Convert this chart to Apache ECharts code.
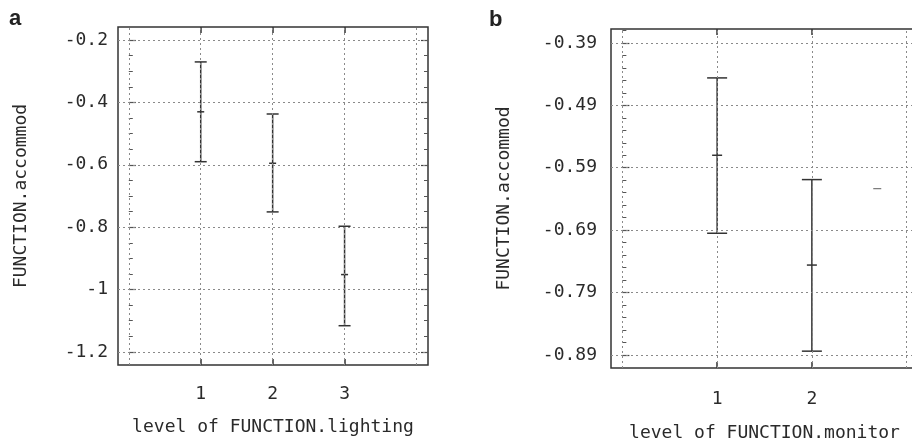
<!DOCTYPE html>
<html>
<head>
<meta charset="utf-8">
<script src="https://cdn.jsdelivr.net/npm/echarts@6/dist/echarts.min.js"></script>
<style>
html,body{margin:0;padding:0;background:#fff;}
#chart{width:912px;height:442px;}
</style>
</head>
<body>
<div id="chart"></div>
<script>
// ---- Panel a data ----
var catsA = [1, 2, 3];
var meanA = [-0.43, -0.595, -0.952];
var lowA  = [-0.59, -0.751, -1.116];
var highA = [-0.27, -0.437, -0.797];
var yTicksA = [-1.2, -1, -0.8, -0.6, -0.4, -0.2];
var yMinorA = [-1.2, -1.15, -1.1, -1.05, -1, -0.95, -0.9, -0.85, -0.8, -0.75, -0.7, -0.65, -0.6, -0.55, -0.5, -0.45, -0.4, -0.35, -0.3, -0.25, -0.2];
var xGridA = [0, 1, 2, 3, 4];
var xTicksA = [1, 2, 3];

// ---- Panel b data ----
var catsB = [1, 2];
var meanB = [-0.57, -0.746];
var lowB  = [-0.695, -0.884];
var highB = [-0.446, -0.609];
var yTicksB = [-0.89, -0.79, -0.69, -0.59, -0.49, -0.39];
var yMinorB = [-0.89, -0.87, -0.85, -0.83, -0.81, -0.79, -0.77, -0.75, -0.73, -0.71, -0.69, -0.67, -0.65, -0.63, -0.61, -0.59, -0.57, -0.55, -0.53, -0.51, -0.49, -0.47, -0.45, -0.43, -0.41, -0.39, -0.37];
var xGridB = [0, 1, 2, 3];
var xTicksB = [1, 2];
var strayB = [[2.69, -0.6235]];

var FONT = 'DejaVu Sans Mono';
var INK = '#2a2a2a';
var GRIDC = '#8a8a8a';

function barData(cats, low, high, mean) {
  return cats.map(function (c, i) { return [c, low[i], high[i], mean[i]]; });
}

function makeRender(capHalf, midHalf) {
  return function (params, api) {
    var x = api.value(0), lo = api.value(1), hi = api.value(2), m = api.value(3);
    var pHi = api.coord([x, hi]), pLo = api.coord([x, lo]), pM = api.coord([x, m]);
    var st = { stroke: '#333', lineWidth: 1.5 };
    return {
      type: 'group',
      children: [
        { type: 'line', shape: { x1: pHi[0], y1: pHi[1], x2: pLo[0], y2: pLo[1] }, style: st },
        { type: 'line', shape: { x1: pHi[0] - capHalf, y1: pHi[1], x2: pHi[0] + capHalf, y2: pHi[1] }, style: st },
        { type: 'line', shape: { x1: pLo[0] - capHalf, y1: pLo[1], x2: pLo[0] + capHalf, y2: pLo[1] }, style: st },
        { type: 'line', shape: { x1: pM[0] - midHalf, y1: pM[1], x2: pM[0] + midHalf, y2: pM[1] }, style: st }
      ]
    };
  };
}

function dashRender(params, api) {
  var p = api.coord([api.value(0), api.value(1)]);
  return { type: 'line', shape: { x1: p[0] - 4, y1: p[1], x2: p[0] + 4, y2: p[1] }, style: { stroke: '#777', lineWidth: 1.2 } };
}

function gridLines(xs, ys) {
  var d = [];
  xs.forEach(function (v) { d.push({ xAxis: v }); });
  ys.forEach(function (v) { d.push({ yAxis: v }); });
  return {
    silent: true, symbol: ['none', 'none'], label: { show: false },
    lineStyle: { type: [2, 3], color: GRIDC, width: 1 },
    emphasis: { disabled: true },
    data: d
  };
}

function yAxes(gi, min, max, ticks, minor, name, labMargin, nameGap) {
  var base = { type: 'value', gridIndex: gi, min: min, max: max, splitLine: { show: false }, axisLine: { show: false } };
  return [
    Object.assign({}, base, {
      position: 'left',
      axisTick: { show: true, inside: true, length: 7, customValues: ticks, lineStyle: { color: '#444', width: 1.2 } },
      axisLabel: { show: true, customValues: ticks, margin: labMargin, color: INK, fontFamily: FONT, fontSize: 18 },
      name: name, nameLocation: 'middle', nameGap: nameGap, nameMoveOverlap: false,
      nameTextStyle: { color: INK, fontFamily: FONT, fontSize: 18 }
    }),
    Object.assign({}, base, {
      position: 'left',
      axisTick: { show: true, inside: true, length: 4, customValues: minor, lineStyle: { color: '#555', width: 1 } },
      axisLabel: { show: false }
    }),
    Object.assign({}, base, {
      position: 'right',
      axisTick: { show: true, inside: true, length: 7, customValues: ticks, lineStyle: { color: '#444', width: 1.2 } },
      axisLabel: { show: false }
    }),
    Object.assign({}, base, {
      position: 'right',
      axisTick: { show: true, inside: true, length: 4, customValues: minor, lineStyle: { color: '#555', width: 1 } },
      axisLabel: { show: false }
    })
  ];
}

function xAxes(gi, min, max, ticks, name, labMargin, nameGap) {
  var base = { type: 'value', gridIndex: gi, min: min, max: max, splitLine: { show: false }, axisLine: { show: false } };
  return [
    Object.assign({}, base, {
      position: 'bottom',
      axisTick: { show: true, inside: true, length: 6, customValues: ticks, lineStyle: { color: '#333', width: 1.5 } },
      axisLabel: { show: true, customValues: ticks, margin: labMargin, color: INK, fontFamily: FONT, fontSize: 18 },
      name: name, nameLocation: 'middle', nameGap: nameGap, nameMoveOverlap: false,
      nameTextStyle: { color: INK, fontFamily: FONT, fontSize: 18 }
    }),
    Object.assign({}, base, {
      position: 'top',
      axisTick: { show: true, inside: true, length: 6, customValues: ticks, lineStyle: { color: '#333', width: 1.5 } },
      axisLabel: { show: false }
    })
  ];
}

var chart = echarts.init(document.getElementById('chart'), null, { renderer: 'canvas' });
var option = {
  animation: false,
  backgroundColor: '#fff',
  title: [
    { text: 'a', left: 4, top: 3, textStyle: { fontFamily: 'Liberation Sans', fontWeight: 'bold', fontSize: 22, color: '#222' } },
    { text: 'b', left: 484, top: 4, textStyle: { fontFamily: 'Liberation Sans', fontWeight: 'bold', fontSize: 22, color: '#222' } }
  ],
  grid: [
    { left: 118, top: 27, width: 310, height: 338, outerBoundsMode: 'none', containLabel: false, show: true, borderColor: '#333', borderWidth: 1.5, backgroundColor: 'transparent' },
    { left: 611, top: 29, width: 307, height: 339, outerBoundsMode: 'none', containLabel: false, show: true, borderColor: '#333', borderWidth: 1.5, backgroundColor: 'transparent' }
  ],
  xAxis: [].concat(
    xAxes(0, -0.15, 4.16, xTicksA, 'level of FUNCTION.lighting', 20, 53),
    xAxes(1, -0.12, 3.12, xTicksB, 'level of FUNCTION.monitor', 22, 56)
  ),
  yAxis: [].concat(
    yAxes(0, -1.242, -0.158, yTicksA, yMinorA, 'FUNCTION.accommod', 10, 88),
    yAxes(1, -0.911, -0.3676, yTicksB, yMinorB, 'FUNCTION.accommod', 14, 98)
  ),
  series: [
    {
      type: 'custom', xAxisIndex: 0, yAxisIndex: 0, silent: true, clip: false,
      renderItem: makeRender(6, 3.5),
      encode: { x: 0, y: [1, 2, 3] },
      data: barData(catsA, lowA, highA, meanA),
      markLine: gridLines(xGridA, yTicksA)
    },
    {
      type: 'custom', xAxisIndex: 2, yAxisIndex: 4, silent: true, clip: false,
      renderItem: makeRender(10, 5),
      encode: { x: 0, y: [1, 2, 3] },
      data: barData(catsB, lowB, highB, meanB),
      markLine: gridLines(xGridB, yTicksB)
    },
    {
      type: 'custom', xAxisIndex: 2, yAxisIndex: 4, silent: true,
      renderItem: dashRender,
      encode: { x: 0, y: 1 },
      data: strayB
    }
  ]
};
chart.setOption(option);
</script>
</body>
</html>
